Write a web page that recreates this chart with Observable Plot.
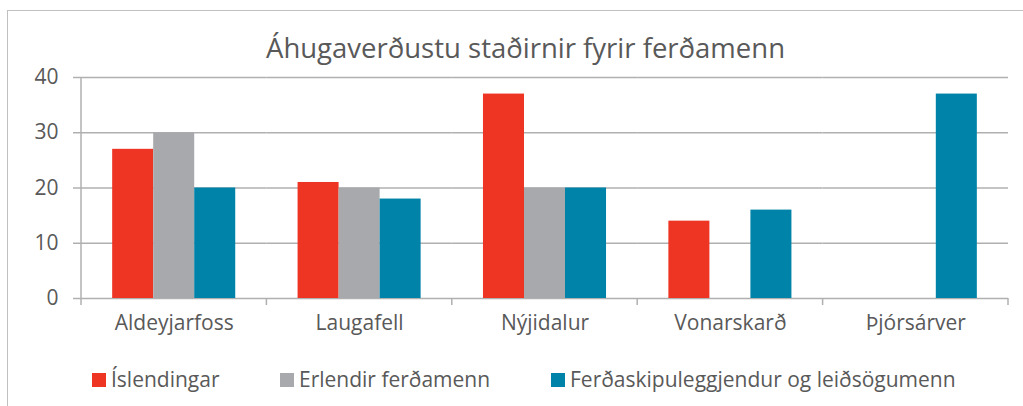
<!DOCTYPE html>
<html><head><meta charset="utf-8">
<script src="https://cdn.jsdelivr.net/npm/d3@7"></script>
<script src="https://cdn.jsdelivr.net/npm/@observablehq/plot@0.6"></script>
<style>
body{margin:0;width:1023px;height:406px;overflow:hidden;background:#fff;font-family:"Open Sans",sans-serif;position:relative}
#frame{position:absolute;left:7px;top:10px;width:1100px;height:500px;border:1.5px solid #c0c0c0;box-sizing:border-box}
#title{position:absolute;left:14px;width:1023px;top:30px;text-align:center;font-size:27.5px;color:#595959;line-height:36px}
#chart{position:absolute;left:0;top:60px}
.leg{position:absolute;top:367px;font-size:21px;color:#595959;display:flex;align-items:center;line-height:25px;white-space:nowrap}
.sw{width:14px;height:14px;margin-right:5px}
</style></head>
<body>
<div id="frame"></div>
<div id="title">Áhugaverðustu staðirnir fyrir ferðamenn</div>
<div id="chart"></div>
<div id="legend"></div>
<script>
const categories = ["Aldeyjarfoss", "Laugafell", "Nýjidalur", "Vonarskarð", "Þjórsárver"];
const series = ["Íslendingar", "Erlendir ferðamenn", "Ferðaskipuleggjendur og leiðsögumenn"];
const islendingar = [27, 21, 37, 14, 0];
const erlendir = [30, 20, 20, 0, 0];
const ferdaskipuleggjendur = [20, 18, 20, 16, 37];
const colors = ["#EE3524", "#A7A9AC", "#0083A9"];
const yTicks = [0, 10, 20, 30, 40];

const values = [islendingar, erlendir, ferdaskipuleggjendur];
const rows = categories.flatMap((c, i) => series.map((s, j) => ({category: c, series: s, value: values[j][i]})));

const gridColor = "#b0b0b0";
const chart = Plot.plot({
  width: 1023, height: 283,
  marginLeft: 81, marginRight: 15, marginTop: 17, marginBottom: 45,
  style: {fontFamily: "'Open Sans', sans-serif", fontSize: "21px", color: "#595959", background: "transparent"},
  fx: {domain: categories, padding: 0, round: false, label: null, tickSize: 0, tickPadding: 17},
  x: {domain: series, paddingInner: 0, paddingOuter: 0.76, round: false, axis: null},
  y: {domain: [0, 40], ticks: yTicks, label: null, tickSize: 8, tickPadding: 15},
  color: {domain: series, range: colors},
  marks: [
    Plot.ruleY(yTicks, {stroke: gridColor, strokeWidth: 1.5}),
    Plot.barY(rows, {fx: "category", x: "series", y: "value", fill: "series"})
  ]
});
document.getElementById("chart").appendChild(chart);

// axis line and category boundary ticks, positioned from Plot's scales
const fx = chart.scale("fx"), y = chart.scale("y");
const step = fx.apply(categories[1]) - fx.apply(categories[0]);
const y0 = y.apply(0), yTop = y.apply(40);
const g = d3.select(chart).append("g").attr("stroke", gridColor).attr("stroke-width", 1.5);
const x0 = fx.apply(categories[0]);
g.append("line").attr("x1", x0).attr("x2", x0).attr("y1", yTop).attr("y2", y0 + 7);
const bounds = categories.map(c => fx.apply(c)).concat([fx.apply(categories[categories.length - 1]) + step]);
g.selectAll("line.b").data(bounds.slice(1)).join("line").attr("class", "b")
  .attr("x1", d => d).attr("x2", d => d).attr("y1", y0).attr("y2", y0 + 7);
d3.select(chart).selectAll("[aria-label='y-axis tick'] path, [aria-label='y-axis'] path").attr("stroke", gridColor).attr("stroke-width", 1.5);

const legendLefts = [92, 280, 551];
const legend = document.getElementById("legend");
series.forEach((s, i) => {
  const d = document.createElement("div");
  d.className = "leg";
  d.style.left = legendLefts[i] + "px";
  d.innerHTML = `<span class="sw" style="background:${colors[i]}"></span><span>${s}</span>`;
  legend.appendChild(d);
});
</script>
</body></html>
